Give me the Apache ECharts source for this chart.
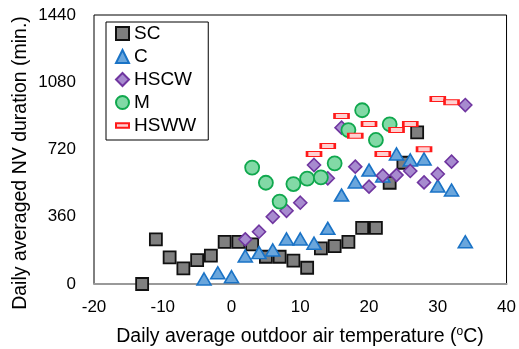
<!DOCTYPE html>
<html><head><meta charset="utf-8">
<script src="https://cdn.jsdelivr.net/npm/echarts@6/dist/echarts.min.js"></script>
<style>html,body{margin:0;padding:0;background:#fff}#c{width:519px;height:349px}</style>
</head><body><div id="c"></div>
<script>
const xTicks = [-20, -10, 0, 10, 20, 30, 40];
const yTicks = [0, 360, 720, 1080, 1440];

const scX = [-13, -11, -9, -7, -5, -3, -1, 1, 3, 5, 7, 9, 11, 13, 15, 17, 19, 21, 23, 25, 27];
const scY = [0, 239, 143, 84, 128, 152, 225, 225, 212, 146, 146, 125, 87, 191, 203, 226, 300, 300, 542, 649, 812];

const cX = [-4, -2, 0, 2, 4, 6, 8, 10, 12, 14, 16, 18, 20, 22, 24, 26, 28, 30, 32, 34];
const cY = [27, 60, 39, 150, 168, 182, 241, 241, 218, 298, 476, 546, 610, 578, 696, 664, 669, 525, 503, 226];

const hscwX = [2, 4, 6, 8, 10, 12, 14, 16, 18, 20, 22, 24, 26, 28, 30, 32, 34];
const hscwY = [239, 280, 360, 392, 435, 637, 566, 837, 628, 521, 580, 583, 605, 544, 589, 655, 958];

const mX = [3, 5, 7, 9, 11, 13, 15, 17, 19, 21, 23];
const mY = [623, 542, 441, 535, 564, 571, 646, 824, 930, 771, 855];

const hswwX = [12, 14, 16, 18, 20, 22, 24, 26, 28, 30, 32];
const hswwY = [696, 739, 899, 794, 856, 696, 824, 856, 721, 990, 973];

const seriesNames = ['SC', 'C', 'HSCW', 'M', 'HSWW'];
const xTitle = 'Daily average outdoor air temperature (';
const yTitle = 'Daily averaged NV duration (min.)';

function pairs(xs, ys) { return xs.map((x, i) => [x, ys[i]]); }

const FONT = 'Liberation Sans, Arial, sans-serif';
const chart = echarts.init(document.getElementById('c'), null, {renderer: 'canvas'});

const styles = [
  {symbol: 'rect', size: 12, fill: '#7f7f7f', border: '#111111', bw: 1.8},
  {symbol: 'triangle', size: [14, 12], fill: '#6aa6dc', border: '#1a73c6', bw: 1.6},
  {symbol: 'diamond', size: 13, fill: '#a78bcf', border: '#7036a0', bw: 1.6},
  {symbol: 'circle', size: 14, fill: '#82d9a6', border: '#10a84e', bw: 1.8},
  {symbol: 'rect', size: [14, 5], fill: '#ffd0d0', border: '#ff1a1a', bw: 1.6}
];
const data = [pairs(scX, scY), pairs(cX, cY), pairs(hscwX, hscwY), pairs(mX, mY), pairs(hswwX, hswwY)];

chart.setOption({
  animation: false,
  textStyle: {fontFamily: FONT},
  grid: {left: 94, right: 12, top: 15, bottom: 65, show: true, borderColor: '#000', borderWidth: 1, backgroundColor: 'transparent'},
  xAxis: {
    type: 'value', min: -20, max: 40, interval: 10,
    axisLine: {show: true, onZero: false, lineStyle: {color: '#999', width: 2}},
    axisTick: {show: false}, splitLine: {show: false},
    axisLabel: {fontSize: 17, color: '#000', margin: 15, fontFamily: FONT,
      formatter: v => xTicks.includes(v) ? String(v) : ''}
  },
  yAxis: {
    type: 'value', min: 0, max: 1440, interval: 360,
    axisLine: {show: false}, axisTick: {show: false}, splitLine: {show: false},
    axisLabel: {fontSize: 17, color: '#000', margin: 18, fontFamily: FONT,
      formatter: v => yTicks.includes(v) ? String(v) : ''}
  },
  legend: {
    orient: 'vertical', left: 106, top: 22,
    borderColor: '#000', borderWidth: 1, backgroundColor: '#fff',
    padding: [2, 12, 5, 9], itemGap: 4, itemWidth: 13, itemHeight: 13,
    textStyle: {fontSize: 19, color: '#000', fontFamily: FONT},
    data: seriesNames.map((n, i) => ({name: n, icon: i === 4 ? 'path://M0,4h14v5h-14z' : styles[i].symbol}))
  },
  graphic: [
    {type: 'text', x: 21, y: 163, rotation: Math.PI / 2,
      style: {text: yTitle, fontSize: 19.5, fontFamily: FONT, fill: '#000', align: 'center', verticalAlign: 'middle'}},
    {type: 'text', x: 300, y: 337,
      style: {text: '{a|' + xTitle + '}{s|o}{a|C)}', align: 'center', verticalAlign: 'middle',
        rich: {a: {fontSize: 19.5, fontFamily: FONT, fill: '#000', color: '#000'},
               s: {fontSize: 12, fontFamily: FONT, fill: '#000', color: '#000', padding: [0, 0, 10, 0]}}}}
  ],
  series: seriesNames.map((n, i) => ({
    name: n, type: 'scatter', data: data[i],
    symbol: styles[i].symbol, symbolSize: styles[i].size,
    itemStyle: {color: styles[i].fill, borderColor: styles[i].border, borderWidth: styles[i].bw, opacity: 1},
    z: 2 + i
  }))
});
</script></body></html>
